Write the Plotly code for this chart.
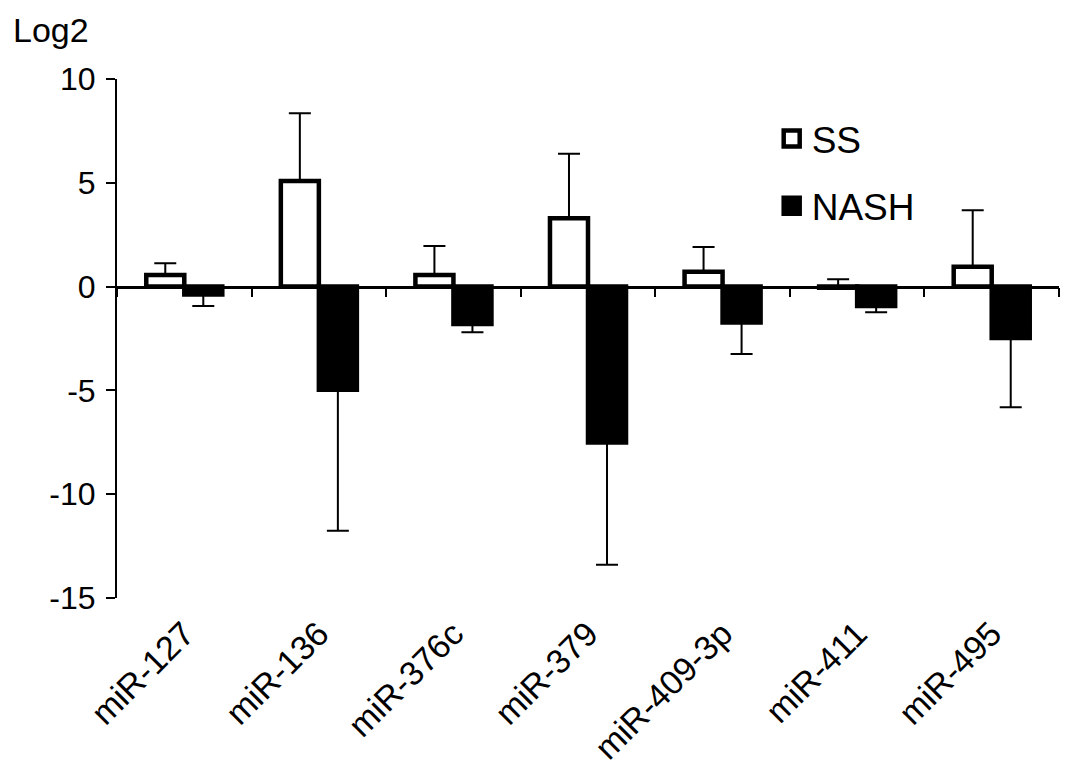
import plotly.graph_objects as go

categories = ["miR-127", "miR-136", "miR-376c", "miR-379", "miR-409-3p", "miR-411", "miR-495"]
ss_values = [0.56, 5.09, 0.56, 3.29, 0.72, -0.05, 0.96]
ss_err_up = [0.57, 3.26, 1.40, 3.11, 1.19, 0.41, 2.72]
nash_values = [-0.38, -4.97, -1.80, -7.51, -1.73, -0.93, -2.48]
nash_err_down = [0.55, 6.79, 0.40, 5.89, 1.52, 0.30, 3.33]
y_ticks = [10, 5, 0, -5, -10, -15]
y_ticktext = ["10", "5", "0", "-5", "-10", "-15"]

FONT = "Liberation Sans, Arial, sans-serif"
W, H = 1060, 768
L, R, T, B = 109, 9, 71, 178
YMIN, YMAX = -15, 10

fig = go.Figure()
fig.add_trace(go.Bar(
    name="SS", x=categories, y=ss_values,
    marker=dict(color="white", line=dict(color="black", width=4.5)),
    error_y=dict(type="data", symmetric=False, array=ss_err_up,
                 arrayminus=[0] * len(ss_err_up), color="black", thickness=2, width=11),
    showlegend=False,
))
fig.add_trace(go.Bar(
    name="NASH", x=categories, y=nash_values,
    marker=dict(color="black", line=dict(color="black", width=4.5)),
    error_y=dict(type="data", symmetric=False, array=[0] * len(nash_err_down),
                 arrayminus=nash_err_down, color="black", thickness=2, width=11),
    showlegend=False,
))
# legend entries
fig.add_trace(go.Scatter(
    name="SS", x=[None], y=[None], mode="markers",
    marker=dict(symbol="square", size=16, color="white", line=dict(color="black", width=4.5)),
    legendgroup="a",
))
fig.add_trace(go.Scatter(
    name="NASH", x=[None], y=[None], mode="markers",
    marker=dict(symbol="square", size=16, color="black", line=dict(color="black", width=4.5)),
    legendgroup="b",
))
# zero-line axis carrier
fig.add_trace(go.Scatter(x=categories, y=[0] * len(categories), xaxis="x2", mode="markers",
                         marker=dict(opacity=0), showlegend=False, hoverinfo="skip"))

fig.update_layout(
    width=W, height=H,
    margin=dict(l=L, r=R, t=T, b=B, autoexpand=False),
    paper_bgcolor="white", plot_bgcolor="white",
    barmode="group", bargap=0.435, bargroupgap=0,
    font=dict(family=FONT, color="black", size=32),
    xaxis=dict(type="category", showline=False, ticks="", showgrid=False, zeroline=False,
               tickangle=-45, tickfont=dict(size=34), ticklabelstandoff=8, automargin=False),
    xaxis2=dict(type="category", overlaying="x", matches="x", anchor="free",
                position=(0 - YMIN) / (YMAX - YMIN), side="bottom",
                showline=True, linecolor="black", linewidth=2.5, showgrid=False,
                ticks="outside", ticklen=9, tickwidth=2, tickcolor="black",
                tickson="boundaries", showticklabels=False, automargin=False),
    yaxis=dict(range=[YMIN, YMAX], tickvals=y_ticks, ticktext=y_ticktext,
               showgrid=False, zeroline=False,
               showline=True, linecolor="black", linewidth=2,
               ticks="outside", ticklen=9, tickwidth=2, tickcolor="black",
               tickfont=dict(size=32), ticklabelstandoff=4, automargin=False),
    legend=dict(x=0.695, y=0.944, xanchor="left", yanchor="top",
                font=dict(size=37), bgcolor="rgba(0,0,0,0)",
                traceorder="grouped", tracegroupgap=16),
    annotations=[dict(text="Log2", xref="paper", yref="paper", x=-0.113, y=1.095,
                      xanchor="left", yanchor="middle", showarrow=False,
                      font=dict(size=34))],
)

fig.write_html("out.html")
